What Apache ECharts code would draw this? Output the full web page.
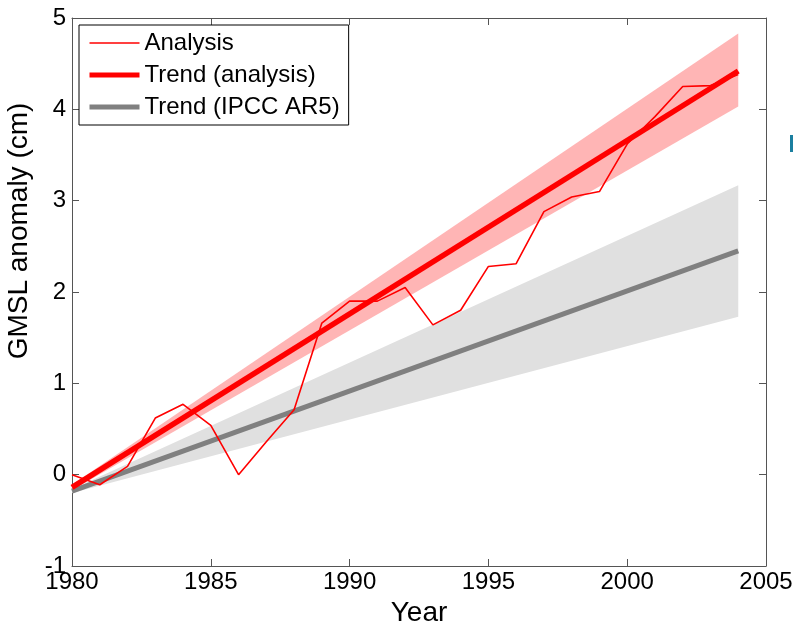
<!DOCTYPE html>
<html>
<head>
<meta charset="utf-8">
<script src="https://cdn.jsdelivr.net/npm/echarts@6/dist/echarts.min.js"></script>
<style>
  html, body { margin: 0; padding: 0; background: #fff; }
  #chart { width: 793px; height: 624px; }
</style>
</head>
<body>
<div id="chart"></div>
<script>
// annual GMSL anomaly
const years = [1980, 1981, 1982, 1983, 1984, 1985, 1986, 1987, 1988, 1989, 1990, 1991,
  1992, 1993, 1994, 1995, 1996, 1997, 1998, 1999, 2000, 2001, 2002, 2003, 2004];
const analysis = [0.0, -0.11, 0.09, 0.62, 0.77, 0.54, 0.0, 0.36, 0.71, 1.66, 1.9, 1.9,
  2.05, 1.64, 1.8, 2.28, 2.31, 2.88, 3.04, 3.1, 3.62, 3.92, 4.25, 4.26, 4.38];

// trend end points and uncertainty envelopes
const trendYears = [1980, 2004];
const trendAnalysis = [-0.14, 4.42];
const bandAnalysisLow = [-0.17, 4.03];
const bandAnalysisHigh = [-0.11, 4.83];
const trendIpcc = [-0.18, 2.45];
const bandIpccLow = [-0.2, 1.73];
const bandIpccHigh = [-0.16, 3.17];

const chart = echarts.init(document.getElementById('chart'));

function bandSeries(low, high, color) {
  const pts = trendYears.map((y, i) => [y, low[i], high[i]]);
  return {
    type: 'custom',
    silent: true,
    z: 1,
    data: pts,
    renderItem: function (params, api) {
      if (params.dataIndex !== 0) return;
      const upper = pts.map(p => api.coord([p[0], p[2]]));
      const lower = pts.slice().reverse().map(p => api.coord([p[0], p[1]]));
      return {
        type: 'polygon',
        shape: { points: upper.concat(lower) },
        style: { fill: color, stroke: null }
      };
    }
  };
}

const FONT = 'Liberation Sans, Arial, sans-serif';
const axisColor = '#555';

function frameAxis(extra) {
  return Object.assign({
    type: 'value',
    axisLine: { show: true, onZero: false, lineStyle: { color: axisColor, width: 1 } },
    axisTick: { show: true, inside: true, length: 7, lineStyle: { color: axisColor } },
    splitLine: { show: false }
  }, extra);
}

const option = {
  animation: false,
  backgroundColor: '#fff',
  grid: { left: 72, right: 27, top: 18, bottom: 58, containLabel: false, outerBoundsMode: 'none' },
  legend: {
    left: 79,
    top: 25,
    orient: 'vertical',
    data: [
      { name: 'Analysis', lineStyle: { width: 1.6 } },
      { name: 'Trend (analysis)', lineStyle: { width: 5 } },
      { name: 'Trend (IPCC AR5)', lineStyle: { width: 5 } }
    ],
    backgroundColor: '#fff',
    borderColor: '#000',
    borderWidth: 1,
    borderRadius: 0,
    padding: [6, 9, 6, 8],
    itemWidth: 50,
    itemHeight: 14,
    itemGap: 8,
    itemStyle: { opacity: 0 },
    textStyle: { fontSize: 24, fontFamily: FONT, color: '#000' }
  },
  xAxis: [frameAxis({
    min: 1980,
    max: 2005,
    interval: 5,
    name: 'Year',
    nameLocation: 'middle',
    nameGap: 30,
    nameTextStyle: { fontSize: 28, fontFamily: FONT, color: '#000' },
    axisLabel: { fontSize: 24, margin: 4, fontFamily: FONT, color: '#000', formatter: v => String(v) }
  }), frameAxis({
    position: 'top',
    min: 1980,
    max: 2005,
    interval: 5,
    axisLabel: { show: false }
  })],
  yAxis: [frameAxis({
    min: -1,
    max: 5,
    interval: 1,
    name: 'GMSL anomaly (cm)',
    nameLocation: 'middle',
    nameGap: 33,
    nameTextStyle: { fontSize: 28, fontFamily: FONT, color: '#000', padding: [0, 0, 0, 122] },
    axisLabel: { fontSize: 24, margin: 6, fontFamily: FONT, color: '#000' }
  }), frameAxis({
    position: 'right',
    min: -1,
    max: 5,
    interval: 1,
    axisLabel: { show: false }
  })],
  series: [
    bandSeries(bandIpccLow, bandIpccHigh, '#e0e0e0'),
    bandSeries(bandAnalysisLow, bandAnalysisHigh, '#ffb5b5'),
    {
      name: 'Trend (IPCC AR5)',
      type: 'line',
      z: 3,
      symbol: 'none',
      data: trendYears.map((y, i) => [y, trendIpcc[i]]),
      lineStyle: { color: '#808080', width: 5 },
      itemStyle: { color: '#808080' }
    },
    {
      name: 'Trend (analysis)',
      type: 'line',
      z: 4,
      symbol: 'none',
      data: trendYears.map((y, i) => [y, trendAnalysis[i]]),
      lineStyle: { color: '#ff0000', width: 5.5 },
      itemStyle: { color: '#ff0000' }
    },
    {
      name: 'Analysis',
      type: 'line',
      z: 5,
      symbol: 'none',
      data: years.map((y, i) => [y, analysis[i]]),
      lineStyle: { color: '#ff0000', width: 1.6 },
      itemStyle: { color: '#ff0000' }
    }
  ],
  graphic: [{
    type: 'rect',
    left: 790,
    top: 135,
    shape: { width: 3, height: 17 },
    style: { fill: '#1b7fa0' }
  }]
};

chart.setOption(option);
</script>
</body>
</html>
